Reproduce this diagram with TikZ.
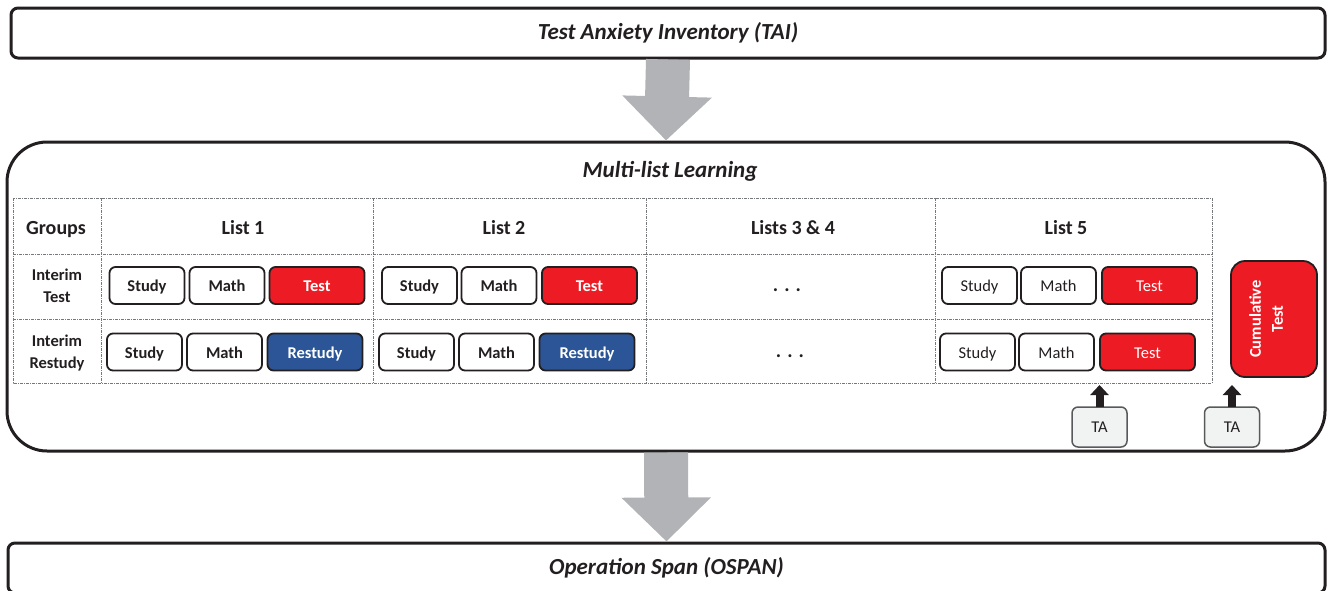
\documentclass[tikz,border=0pt]{standalone}
\usepackage{fontspec}
\setmainfont{Carlito}
\usetikzlibrary{arrows.meta}
\definecolor{myred}{HTML}{ED1C24}
\definecolor{myblue}{HTML}{2B5597}
\definecolor{arrgray}{HTML}{B1B3B6}
\definecolor{dark}{HTML}{231F20}
\definecolor{tagray}{HTML}{F1F2F2}
\definecolor{tadraw}{HTML}{58595B}
\definecolor{dashgray}{HTML}{77787B}
\begin{document}
\begin{tikzpicture}[x=1pt,y=-1pt,
  frame/.style={draw=dark, line width=3pt, inner sep=0pt},
  cell/.style={draw=dark, line width=1.8pt, rounded corners=6pt, minimum height=37pt, inner sep=0pt,
    text height=13pt, text depth=1pt,
    font=\fontsize{16.5}{20}\selectfont\bfseries, text=dark, fill=white},
  smallbox/.style={cell, minimum width=75pt},
  widebox/.style={cell, minimum width=95pt},
  redbox/.style={widebox, fill=myred, text=white},
  bluebox/.style={widebox, fill=myblue, text=white},
  lightfont/.style={font=\fontsize{16.5}{20}\selectfont\mdseries},
  header/.style={font=\fontsize{20}{24}\selectfont\bfseries, text=dark, text height=15pt, text depth=1pt},
  rowlabel/.style={font=\fontsize{16.5}{22}\selectfont\bfseries, text=dark, align=center},
  tbl/.style={draw=dashgray, line width=0.9pt, dash pattern=on 3pt off 1pt on 1pt off 1pt},
  bigarrow/.style={draw=arrgray, line width=44pt, -{Triangle[width=87pt,length=44pt]}},
  taarrow/.style={draw=dark, line width=8pt, -{Triangle[width=18pt,length=10pt]}},
  tabox/.style={draw=tadraw, fill=tagray, line width=1.5pt, rounded corners=6pt, minimum width=55pt,
    minimum height=40pt, inner sep=0pt, font=\fontsize{16.5}{20}\selectfont, text=dark},
  dots/.style={font=\fontsize{20}{24}\selectfont\bfseries, text=dark, anchor=base}
]
\useasboundingbox (0,0) rectangle (1328,590);

% main frames
\node[frame, rounded corners=7pt, minimum width=1314pt, minimum height=50pt,
  font=\fontsize{23}{27}\selectfont\bfseries\itshape, text=dark] (tai) at (668,33) {Test Anxiety Inventory (TAI)};
\node[frame, rounded corners=40pt, minimum width=1318pt, minimum height=309pt] (mll) at (666,296.5) {};
\node[frame, rounded corners=7pt, minimum width=1317pt, minimum height=50pt,
  font=\fontsize{23}{27}\selectfont\bfseries\itshape, text=dark] (ospan) at (666.5,568) {Operation Span (OSPAN)};

% big arrows
\draw[bigarrow] (tai.south) -- (mll.north);
\draw[bigarrow] (mll.south) -- (ospan.north);

\node[font=\fontsize{23}{27}\selectfont\bfseries\itshape, text=dark] (mlltitle) at (670,171) {Multi-list Learning};

% table grid
\draw[tbl] (13,198) rectangle (1212,383);
\draw[tbl] (13,254) -- (1212,254);
\draw[tbl] (13,319) -- (1212,319);
\foreach \x in {101,373,646,935} \draw[tbl] (\x,198) -- (\x,383);

% headers
\node[header] (hgroups) at (56,227) {Groups};
\node[header] (hl1) at (243,227) {List 1};
\node[header] (hl2) at (504,227) {List 2};
\node[header] (hl34) at (793,227) {Lists 3 \& 4};
\node[header] (hl5) at (1066,227) {List 5};

% row labels
\node[rowlabel] (rit) at (57,286) {Interim\\Test};
\node[rowlabel] (rir) at (57,353) {Interim\\Restudy};

% List 1
\node[smallbox] (a1) at (147,285.5) {Study};
\node[smallbox] (a2) at (227,285.5) {Math};
\node[redbox] (a3) at (317,285.5) {Test};
\node[smallbox] (b1) at (144.5,352) {Study};
\node[smallbox] (b2) at (224.5,352) {Math};
\node[bluebox] (b3) at (315,352) {Restudy};

% List 2
\node[smallbox] (c1) at (419.5,285.5) {Study};
\node[smallbox] (c2) at (499,285.5) {Math};
\node[redbox] (c3) at (589.5,285.5) {Test};
\node[smallbox] (d1) at (416.5,352) {Study};
\node[smallbox] (d2) at (496.5,352) {Math};
\node[bluebox] (d3) at (587,352) {Restudy};

% Lists 3 & 4
\node[dots] (e1) at (787,291) {.\hspace{6pt}.\hspace{6pt}.};
\node[dots] (e2) at (790,357) {.\hspace{6pt}.\hspace{6pt}.};

% List 5
\node[smallbox, lightfont] (f1) at (979.5,285.5) {Study};
\node[smallbox, lightfont] (f2) at (1058.5,285.5) {Math};
\node[redbox, lightfont] (f3) at (1149.5,285.5) {Test};
\node[smallbox, lightfont] (g1) at (977.5,352) {Study};
\node[smallbox, lightfont] (g2) at (1056.5,352) {Math};
\node[redbox, lightfont] (g3) at (1147.5,352) {Test};

% cumulative test
\node[draw=dark, line width=1.8pt, fill=myred, rounded corners=14pt, minimum width=86pt, minimum height=116pt,
  inner sep=0pt] (cum) at (1274,319) {};
\node[text=white, rotate=90, align=center, font=\fontsize{16.5}{22}\selectfont\bfseries] (cumtext) at (1266,319) {Cumulative\\Test};

% TA boxes and arrows
\node[tabox] (ta1) at (1099.5,427) {TA};
\node[tabox] (ta2) at (1232,427) {TA};
\coordinate (t1) at (1099.5,385);
\coordinate (t2) at (1232,385);
\draw[taarrow] ([yshift=-0.5pt]ta1.north) -- (t1);
\draw[taarrow] ([yshift=-0.5pt]ta2.north) -- (t2);
\end{tikzpicture}
\end{document}
